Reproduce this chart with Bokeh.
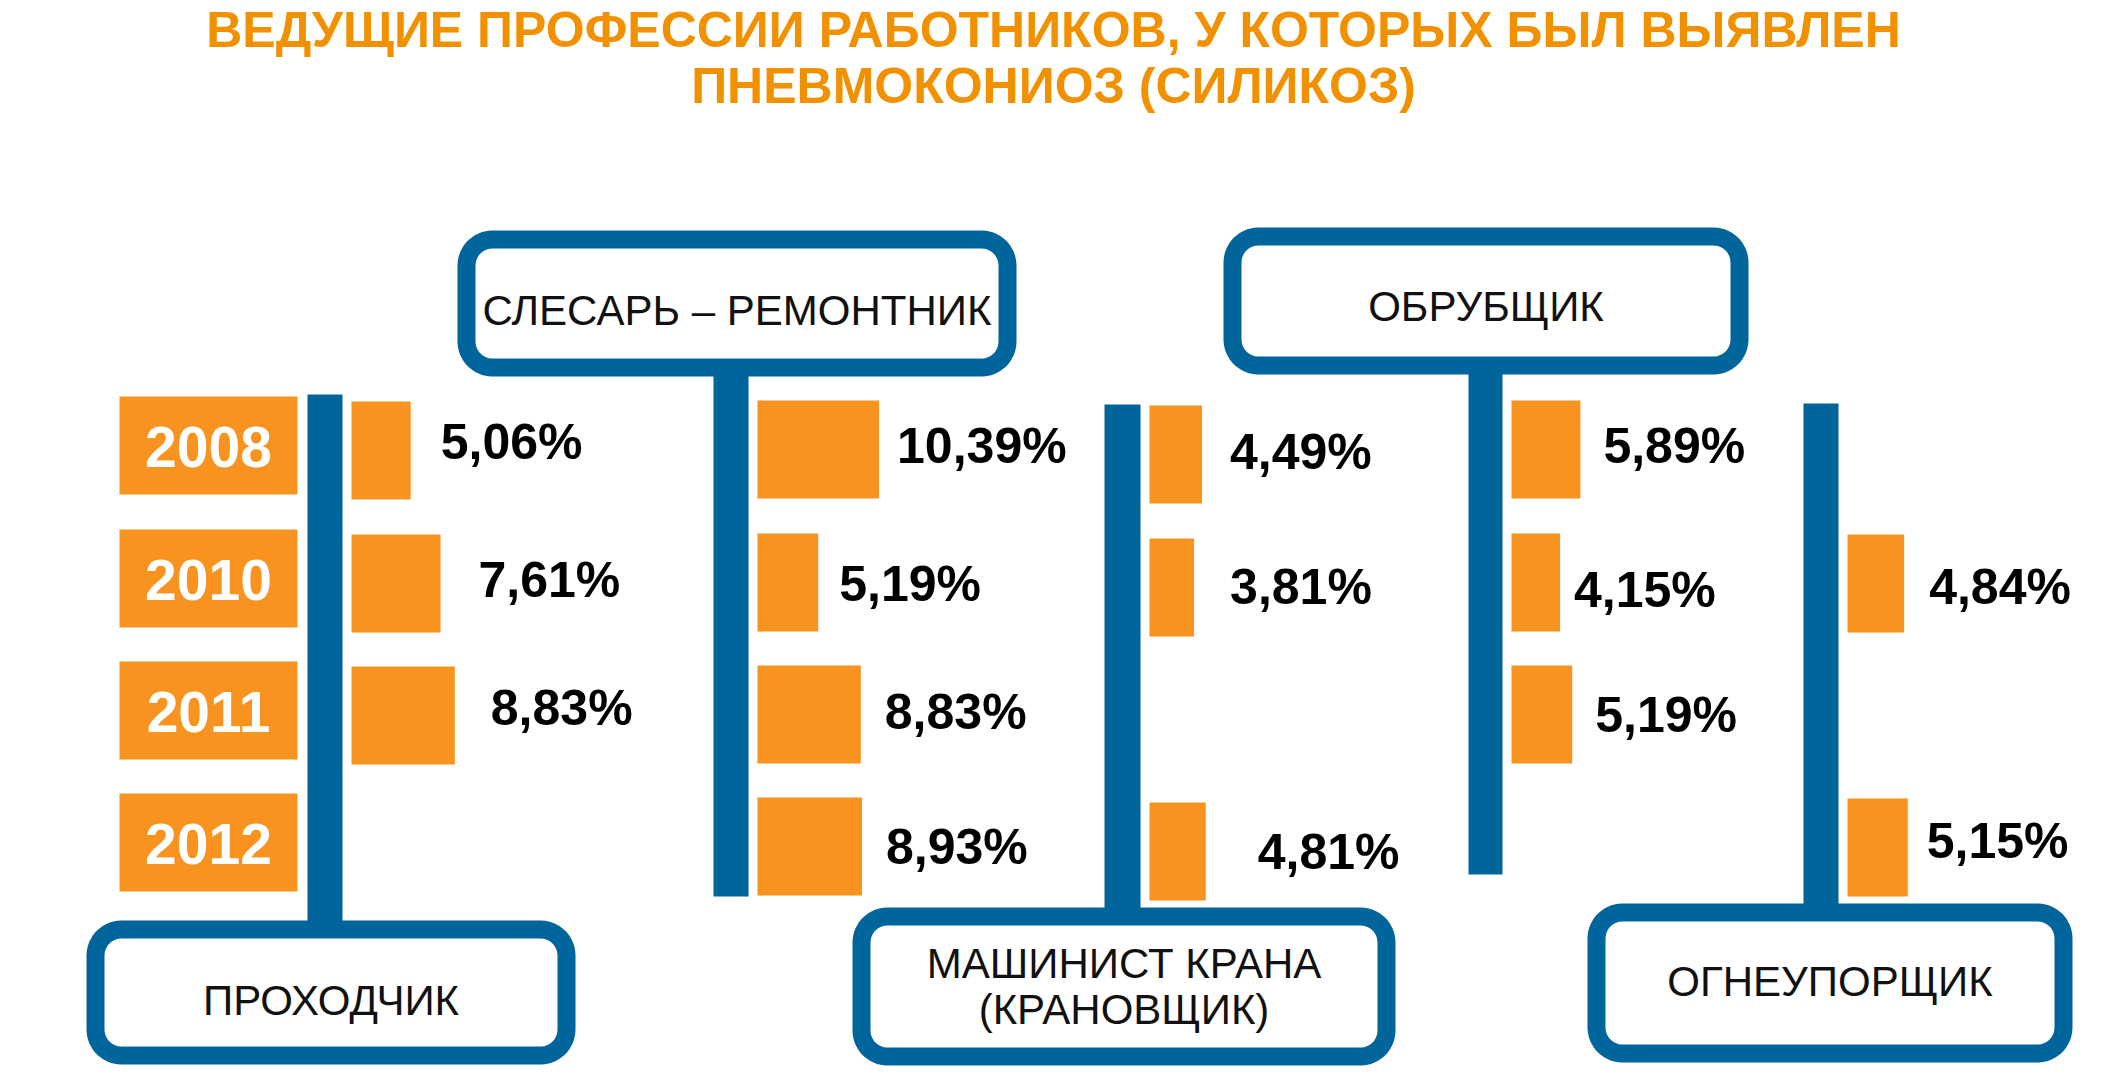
import numpy as np
from bokeh.plotting import figure
from bokeh.models import Range1d, ColumnDataSource
from bokeh.core.properties import value
from bokeh.embed import file_html
from bokeh.resources import INLINE

# ---------------- data ----------------
title_lines = ["ВЕДУЩИЕ ПРОФЕССИИ РАБОТНИКОВ, У КОТОРЫХ БЫЛ ВЫЯВЛЕН",
               "ПНЕВМОКОНИОЗ (СИЛИКОЗ)"]
years = ["2008", "2010", "2011", "2012"]
professions = ["ПРОХОДЧИК", "СЛЕСАРЬ – РЕМОНТНИК", "МАШИНИСТ КРАНА\n(КРАНОВЩИК)",
               "ОБРУБЩИК", "ОГНЕУПОРЩИК"]
prokhodchik = [5.06, 7.61, 8.83, None]
slesar_remontnik = [10.39, 5.19, 8.83, 8.93]
mashinist_krana = [4.49, 3.81, None, 4.81]
obrubshchik = [5.89, 4.15, 5.19, None]
ogneuporshchik = [None, 4.84, None, 5.15]
series = [prokhodchik, slesar_remontnik, mashinist_krana, obrubshchik, ogneuporshchik]

# ---------------- layout / style ----------------
W, H = 2104, 1078
ORANGE = "#F7931E"
TITLE_ORANGE = "#F29100"
BLUE = "#00659A"
FONT = "Liberation Sans"

stem_x = [(307, 342), (713, 748), (1104, 1140), (1468, 1502), (1803, 1838)]
stem_y = [(394, 930), (365, 896), (404, 915), (365, 874), (403, 910)]
boxes = [(86, 575, 920, 1064), (457, 1016, 230, 376), (852, 1395, 907, 1065),
         (1223, 1748, 227, 374), (1587, 2072, 903, 1062)]
box_text_y = [1000, 310, 986, 306, 981]
box_line_step = 46
# horizontal gap between bar end and its label, per column / row
label_gap = [[30, 38, 36, 0], [18, 21, 24, 24], [28, 36, 0, 52],
             [23, 14, 23, 0], [0, 25, 0, 19]]
label_dy = [[-9, -4, -8, 0], [-4, 1, -3, 0], [-3, -1, 1, 0],
            [-4, 7, 0, 0], [0, 3, 0, -7]]
col_dy = [1, 0, 5, 0, 1]
row_top = [400, 533, 665, 797]
row_h = 98
px_per_pct = 11.7
bar_gap = 9
border = 18

p = figure(width=W, height=H, x_range=Range1d(0, W), y_range=Range1d(H, 0),
           output_backend="svg", toolbar_location=None, min_border=0,
           background_fill_color="white", border_fill_color="white")
p.axis.visible = False
p.grid.visible = False
p.outline_line_color = None

# title
p.text(x=[W / 2 + 1] * 2, y=[29, 85], text=title_lines,
       text_font=value(FONT), text_font_style="bold", text_font_size="50px",
       text_color=TITLE_ORANGE, text_align="center", text_baseline="middle")

# stems
p.quad(left=[s[0] for s in stem_x], right=[s[1] for s in stem_x],
       top=[s[0] for s in stem_y], bottom=[s[1] for s in stem_y],
       fill_color=BLUE, line_color=None)


def rounded_rect(x0, x1, y0, y1, r, n=12):
    xs, ys = [], []
    corners = [(x1 - r, y0 + r, -90, 0), (x1 - r, y1 - r, 0, 90),
               (x0 + r, y1 - r, 90, 180), (x0 + r, y0 + r, 180, 270)]
    for cx, cy, a0, a1 in corners:
        t = np.radians(np.linspace(a0, a1, n))
        xs.extend(cx + r * np.cos(t))
        ys.extend(cy + r * np.sin(t))
    return xs, ys


bxs, bys = [], []
for (x0, x1, y0, y1) in boxes:
    h = border / 2
    xs, ys = rounded_rect(x0 + h, x1 - h, y0 + h, y1 - h, 26)
    bxs.append(xs)
    bys.append(ys)
p.patches(bxs, bys, fill_color="white", line_color=BLUE, line_width=border,
          line_join="round")

# profession names
tx, ty, tt = [], [], []
for i, name in enumerate(professions):
    lines = name.split("\n")
    cx = (boxes[i][0] + boxes[i][1]) / 2
    n = len(lines)
    for k, ln in enumerate(lines):
        tx.append(cx)
        ty.append(box_text_y[i] + (k - (n - 1) / 2) * box_line_step)
        tt.append(ln)
p.text(x=tx, y=ty, text=tt, text_font=value(FONT), text_font_size="42px",
       text_color="#111111", text_align="center", text_baseline="middle")

# year boxes
yb_top = [t - 4 for t in row_top]
p.quad(left=[119] * 4, right=[297] * 4, top=yb_top, bottom=[t + row_h for t in yb_top],
       fill_color=ORANGE, line_color=None)
p.text(x=[208] * 4, y=[t + row_h / 2 + 1 for t in yb_top], text=years,
       text_font=value(FONT), text_font_style="bold", text_font_size="57px",
       text_color="white", text_align="center", text_baseline="middle")

# value bars and labels
L, R, T, B, LX, LY, LT = [], [], [], [], [], [], []
for ci, vals in enumerate(series):
    left = stem_x[ci][1] + bar_gap
    for ri, v in enumerate(vals):
        if v is None:
            continue
        top = row_top[ri] + col_dy[ci]
        right = left + v * px_per_pct
        L.append(left); R.append(right); T.append(top); B.append(top + row_h)
        LX.append(right + label_gap[ci][ri])
        LY.append(top + row_h / 2 + label_dy[ci][ri])
        LT.append(f"{v:.2f}".replace(".", ",") + "%")

src = ColumnDataSource(dict(left=L, right=R, top=T, bottom=B))
p.quad(left="left", right="right", top="top", bottom="bottom", source=src,
       fill_color=ORANGE, line_color=None)
p.text(x=LX, y=LY, text=LT, text_font=value(FONT), text_font_style="bold",
       text_font_size="50px", text_color="black", text_align="left",
       text_baseline="middle")

open("out.html", "w").write(file_html(p, INLINE))
